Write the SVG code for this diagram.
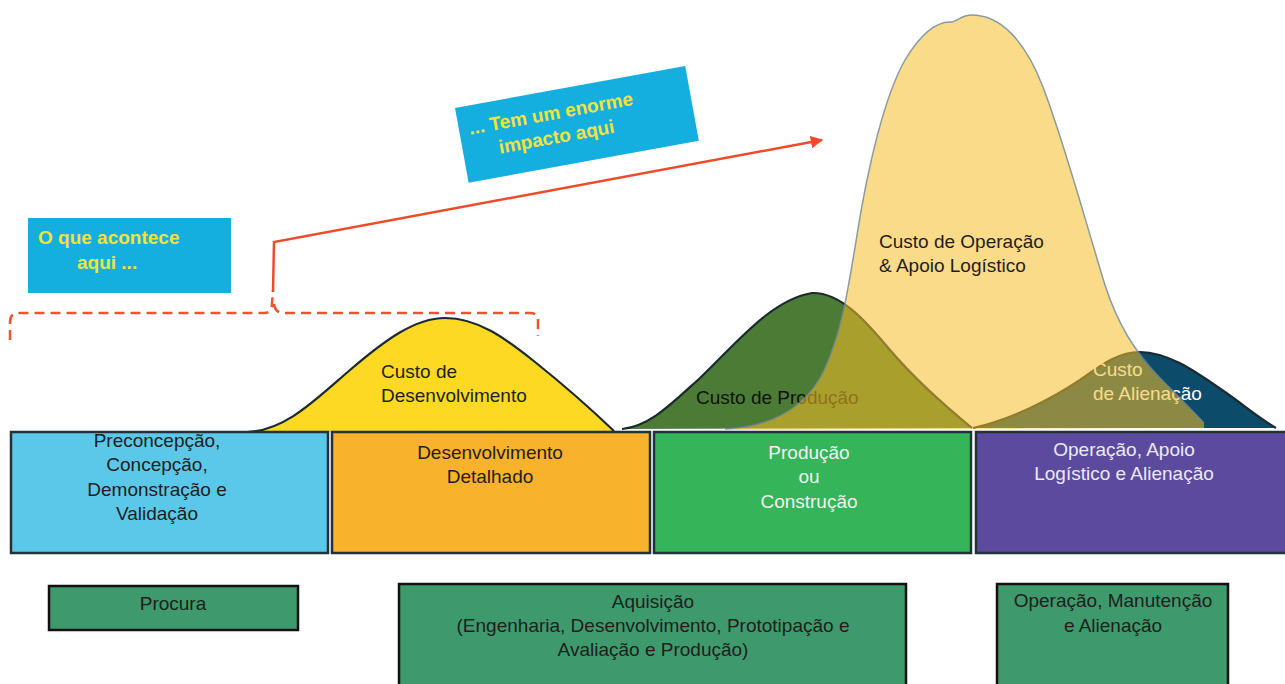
<svg xmlns="http://www.w3.org/2000/svg" width="1285" height="684" viewBox="0 0 1285 684">
<defs>
<style>
.t{font-family:"Liberation Sans",Arial,sans-serif;font-size:19px;}
.c{text-anchor:middle;}
.dark{fill:#1e1e1e;}
.light{fill:#f2f2f2;}
.callout{font-family:"Liberation Sans",Arial,sans-serif;font-size:19px;font-weight:bold;fill:#F4E23C;}
.phase{stroke:#22323a;stroke-width:2.5;}
.stage{fill:#3E9A6C;stroke:#111;stroke-width:2.5;}
.curveline{fill:none;stroke:#1b2a30;stroke-width:2.2;}
</style>
<marker id="arr" viewBox="0 0 10 10" refX="9" refY="5" markerWidth="5" markerHeight="5" orient="auto">
<path d="M0,0 L10,5 L0,10 Z" fill="#EE4B2B"/>
</marker>
</defs>
<rect width="1285" height="684" fill="#ffffff"/>

<!-- cost curves -->
<g id="curve-desenvolvimento">
<path d="M247,432 C285,431 315,400 350,370 C385,340 415,318 445,318 C478,318 505,338 535,362 C565,386 592,410 614,431 Z" fill="#FDD923"/>
<path class="curveline" d="M247,432 C285,431 315,400 350,370 C385,340 415,318 445,318 C478,318 505,338 535,362 C565,386 592,410 614,431"/>
<text class="t dark" x="381" y="378">Custo de</text>
<text class="t dark" x="381" y="402">Desenvolvimento</text>
</g>
<g id="curve-producao">
<path d="M622,429 C650,426 670,405 700,378 C735,345 770,300 812,293 C840,292 865,320 890,350 C920,385 950,410 972,428 Z" fill="#4B7B34"/>
<path class="curveline" d="M622,429 C650,426 670,405 700,378 C735,345 770,300 812,293 C840,292 865,320 890,350 C920,385 950,410 972,428"/>
<text class="t" x="696" y="404" fill="#111">Custo de Produção</text>
</g>
<g id="curve-alienacao">
<path d="M973,428 C1010,420 1050,400 1080,380 C1105,362 1120,352 1140,352 C1170,352 1200,375 1225,392 C1245,406 1262,420 1276,428 Z" fill="#0C4B69"/>
<path class="curveline" d="M973,428 C1010,420 1050,400 1080,380 C1105,362 1120,352 1140,352 C1170,352 1200,375 1225,392 C1245,406 1262,420 1276,428"/>
<text class="t" x="1093" y="376" fill="#ffffff">Custo</text>
<text class="t" x="1093" y="400" fill="#ffffff">de Alienação</text>
</g>
<g id="curve-operacao">
<path d="M725,429 C765,427 805,412 825,368 C842,330 848,290 857,235 C868,165 885,95 905,60 C920,35 935,22 950,22 C958,22 960,15 972,15 C1000,15 1025,40 1043,87 C1065,145 1085,220 1105,285 C1118,325 1135,352 1160,378 C1180,398 1195,413 1204,423 L1204,428 L725,430 Z" fill="#F5BE28" fill-opacity="0.55"/>
<path d="M725,429 C765,427 805,412 825,368 C842,330 848,290 857,235 C868,165 885,95 905,60 C920,35 935,22 950,22 C958,22 960,15 972,15 C1000,15 1025,40 1043,87 C1065,145 1085,220 1105,285 C1118,325 1135,352 1160,378 C1180,398 1195,413 1204,423" fill="none" stroke="#6A8797" stroke-width="1.5" stroke-opacity="0.8"/>
<text class="t dark" x="879" y="248">Custo de Operação</text>
<text class="t dark" x="879" y="272">&amp; Apoio Logístico</text>
</g>

<!-- callouts -->
<g id="callout-aqui">
<rect x="28" y="218" width="203" height="75" fill="#15AFDF"/>
<text class="callout" x="38" y="244">O que acontece</text>
<text class="callout" x="77" y="269">aqui  ...</text>
</g>
<g id="callout-impacto" transform="translate(455,108) rotate(-10.35)">
<rect x="0" y="0" width="234" height="76" fill="#15AFDF"/>
<text class="callout" x="10" y="29">... Tem um enorme</text>
<text class="callout" x="36" y="53">impacto aqui</text>
</g>

<!-- connectors -->
<g id="connectors">
<path d="M10,340 L10,322 Q10,313 19,313 L264,313 Q272,313 272,304 L273,290 M274,304 Q275,313 284,313 L530,313 Q538,313 538,321 L538,336" fill="none" stroke="#EE5330" stroke-width="2.5" stroke-dasharray="10 6"/>
<path d="M273,292 L274,242 L822,140" fill="none" stroke="#EE4B2B" stroke-width="2.5" marker-end="url(#arr)"/>
</g>

<!-- phase boxes -->
<g id="fase-preconcepcao">
<rect class="phase" x="11" y="432" width="317" height="121" fill="#5BC8EA"/>
<text class="t c dark" x="157" y="447">Preconcepção,</text>
<text class="t c dark" x="157" y="471">Concepção,</text>
<text class="t c dark" x="157" y="496">Demonstração e</text>
<text class="t c dark" x="157" y="520">Validação</text>
</g>
<g id="fase-desenvolvimento">
<rect class="phase" x="332" y="432" width="318" height="121" fill="#F8B22B"/>
<text class="t c dark" x="490" y="459">Desenvolvimento</text>
<text class="t c dark" x="490" y="483">Detalhado</text>
</g>
<g id="fase-producao">
<rect class="phase" x="654" y="432" width="317" height="121" fill="#35B45A"/>
<text class="t c light" x="809" y="459">Produção</text>
<text class="t c light" x="809" y="483">ou</text>
<text class="t c light" x="809" y="508">Construção</text>
</g>
<g id="fase-operacao">
<rect class="phase" x="976" y="432" width="312" height="121" fill="#5B4A9E"/>
<text class="t c" x="1124" y="456" fill="#ECEAF5">Operação, Apoio</text>
<text class="t c" x="1124" y="480" fill="#ECEAF5">Logístico e Alienação</text>
</g>

<!-- stage boxes -->
<g id="etapa-procura">
<rect class="stage" x="49" y="586" width="249" height="44"/>
<text class="t c dark" x="173" y="610">Procura</text>
</g>
<g id="etapa-aquisicao">
<rect class="stage" x="399" y="584" width="507" height="110"/>
<text class="t c dark" x="653" y="608">Aquisição</text>
<text class="t c dark" x="653" y="632">(Engenharia, Desenvolvimento, Prototipação e</text>
<text class="t c dark" x="653" y="656">Avaliação e Produção)</text>
</g>
<g id="etapa-operacao">
<rect class="stage" x="997" y="584" width="231" height="110"/>
<text class="t c dark" x="1113" y="607">Operação, Manutenção</text>
<text class="t c dark" x="1113" y="632">e Alienação</text>
</g>
</svg>
